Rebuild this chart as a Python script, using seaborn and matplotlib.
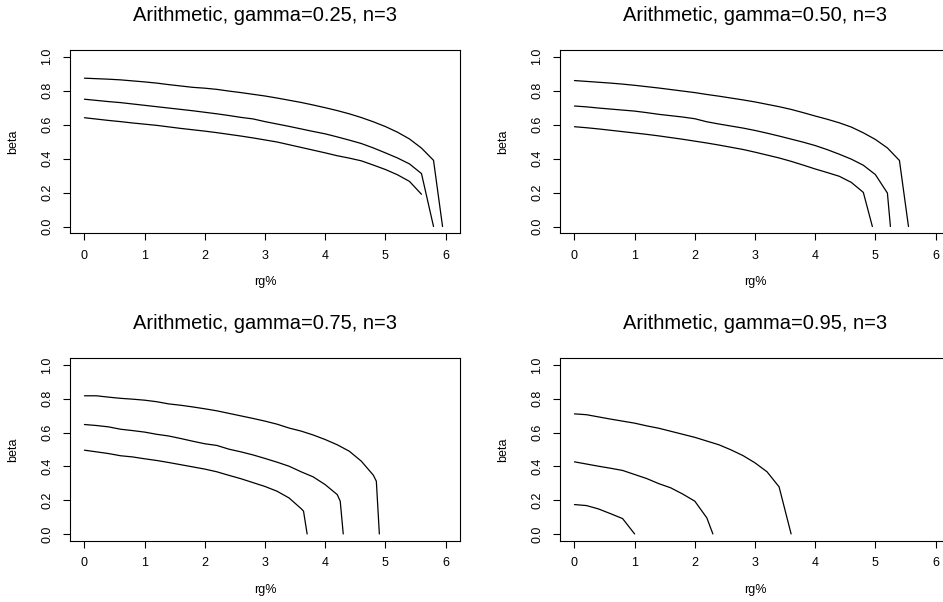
import pandas as pd
import seaborn as sns
import matplotlib
matplotlib.use("Agg")
import matplotlib.pyplot as plt

# panel titles (gamma values), three curves per panel
gammas = ["0.25", "0.50", "0.75", "0.95"]

# gamma = 0.25
g25_x_top = [0, 0.2, 0.4, 0.6, 0.8, 1.0, 1.2, 1.4, 1.6, 1.8, 2.0, 2.2, 2.4, 2.6, 2.8, 3.0,
             3.2, 3.4, 3.6, 3.8, 4.0, 4.2, 4.4, 4.6, 4.8, 5.0, 5.2, 5.4, 5.6, 5.8, 5.95]
g25_y_top = [0.874, 0.871, 0.868, 0.864, 0.858, 0.852, 0.845, 0.836, 0.828, 0.820, 0.815,
             0.808, 0.798, 0.789, 0.779, 0.769, 0.757, 0.744, 0.731, 0.716, 0.700, 0.683,
             0.664, 0.642, 0.617, 0.589, 0.556, 0.516, 0.462, 0.390, 0.0]
g25_x_mid = [0, 0.2, 0.4, 0.6, 0.8, 1.0, 1.2, 1.4, 1.6, 1.8, 2.0, 2.2, 2.4, 2.6, 2.8, 3.0,
             3.2, 3.4, 3.6, 3.8, 4.0, 4.2, 4.4, 4.6, 4.8, 5.0, 5.2, 5.4, 5.6, 5.8]
g25_y_mid = [0.750, 0.743, 0.736, 0.730, 0.722, 0.714, 0.706, 0.698, 0.690, 0.682, 0.673,
             0.664, 0.654, 0.643, 0.634, 0.618, 0.604, 0.590, 0.575, 0.560, 0.546, 0.528,
             0.509, 0.489, 0.463, 0.434, 0.404, 0.369, 0.312, 0.0]
g25_x_low = [0, 0.2, 0.4, 0.6, 0.8, 1.0, 1.2, 1.4, 1.6, 1.8, 2.0, 2.2, 2.4, 2.6, 2.8, 3.0,
             3.2, 3.4, 3.6, 3.8, 4.0, 4.2, 4.4, 4.6, 4.8, 5.0, 5.2, 5.4, 5.6]
g25_y_low = [0.641, 0.633, 0.625, 0.618, 0.610, 0.603, 0.596, 0.587, 0.578, 0.570, 0.562,
             0.553, 0.543, 0.533, 0.522, 0.510, 0.498, 0.482, 0.466, 0.450, 0.434, 0.417,
             0.403, 0.387, 0.362, 0.336, 0.305, 0.266, 0.190]

# gamma = 0.50
g50_x_top = [0, 0.2, 0.4, 0.6, 0.8, 1.0, 1.2, 1.4, 1.6, 1.8, 2.0, 2.2, 2.4, 2.6, 2.8, 3.0,
             3.2, 3.4, 3.6, 3.8, 4.0, 4.2, 4.4, 4.6, 4.8, 5.0, 5.2, 5.4, 5.55]
g50_y_top = [0.860, 0.855, 0.850, 0.845, 0.839, 0.832, 0.824, 0.816, 0.807, 0.798, 0.789,
             0.778, 0.768, 0.757, 0.746, 0.734, 0.720, 0.706, 0.690, 0.671, 0.651, 0.632,
             0.611, 0.586, 0.552, 0.513, 0.463, 0.389, 0.0]
g50_x_mid = [0, 0.2, 0.4, 0.6, 0.8, 1.0, 1.2, 1.4, 1.6, 1.8, 2.0, 2.2, 2.4, 2.6, 2.8, 3.0,
             3.2, 3.4, 3.6, 3.8, 4.0, 4.2, 4.4, 4.6, 4.8, 5.0, 5.2, 5.25]
g50_y_mid = [0.710, 0.705, 0.698, 0.692, 0.686, 0.680, 0.671, 0.661, 0.653, 0.645, 0.635,
             0.617, 0.604, 0.592, 0.580, 0.566, 0.550, 0.533, 0.515, 0.497, 0.477, 0.453,
             0.426, 0.397, 0.361, 0.306, 0.197, 0.0]
g50_x_low = [0, 0.2, 0.4, 0.6, 0.8, 1.0, 1.2, 1.4, 1.6, 1.8, 2.0, 2.2, 2.4, 2.6, 2.8, 3.0,
             3.2, 3.4, 3.6, 3.8, 4.0, 4.2, 4.4, 4.6, 4.8, 4.95]
g50_y_low = [0.588, 0.582, 0.575, 0.567, 0.559, 0.551, 0.543, 0.534, 0.524, 0.514, 0.503,
             0.492, 0.480, 0.467, 0.454, 0.438, 0.421, 0.404, 0.384, 0.362, 0.339, 0.318,
             0.296, 0.260, 0.201, 0.0]

# gamma = 0.75
g75_x_top = [0, 0.2, 0.4, 0.6, 0.8, 1.0, 1.2, 1.4, 1.6, 1.8, 2.0, 2.2, 2.4, 2.6, 2.8, 3.0,
             3.2, 3.4, 3.6, 3.8, 4.0, 4.2, 4.4, 4.6, 4.8, 4.85, 4.9]
g75_y_top = [0.818, 0.818, 0.810, 0.803, 0.798, 0.792, 0.783, 0.770, 0.762, 0.752, 0.741,
             0.729, 0.714, 0.699, 0.684, 0.668, 0.650, 0.627, 0.609, 0.586, 0.559, 0.528,
             0.490, 0.431, 0.348, 0.312, 0.0]
g75_x_mid = [0, 0.2, 0.4, 0.6, 0.8, 1.0, 1.2, 1.4, 1.6, 1.8, 2.0, 2.2, 2.4, 2.6, 2.8, 3.0,
             3.2, 3.4, 3.6, 3.8, 4.0, 4.2, 4.25, 4.3]
g75_y_mid = [0.648, 0.642, 0.634, 0.620, 0.612, 0.603, 0.590, 0.580, 0.565, 0.549, 0.534,
             0.524, 0.502, 0.486, 0.468, 0.447, 0.425, 0.401, 0.368, 0.338, 0.292, 0.233,
             0.194, 0.0]
g75_x_low = [0, 0.2, 0.4, 0.6, 0.8, 1.0, 1.2, 1.4, 1.6, 1.8, 2.0, 2.2, 2.4, 2.6, 2.8, 3.0,
             3.2, 3.4, 3.6, 3.64, 3.7]
g75_y_low = [0.496, 0.486, 0.476, 0.463, 0.456, 0.445, 0.435, 0.423, 0.410, 0.397, 0.384,
             0.368, 0.347, 0.327, 0.304, 0.281, 0.253, 0.213, 0.150, 0.135, 0.0]

# gamma = 0.95
g95_x_top = [0, 0.2, 0.4, 0.6, 0.8, 1.0, 1.2, 1.4, 1.6, 1.8, 2.0, 2.2, 2.4, 2.6, 2.8, 3.0,
             3.2, 3.4, 3.6]
g95_y_top = [0.711, 0.706, 0.693, 0.680, 0.668, 0.656, 0.640, 0.626, 0.608, 0.590, 0.572,
             0.550, 0.528, 0.498, 0.464, 0.421, 0.368, 0.279, 0.0]
g95_x_mid = [0, 0.2, 0.4, 0.6, 0.8, 1.0, 1.2, 1.4, 1.6, 1.8, 2.0, 2.2, 2.3]
g95_y_mid = [0.427, 0.414, 0.401, 0.389, 0.376, 0.352, 0.328, 0.298, 0.273, 0.236, 0.194,
             0.095, 0.0]
g95_x_low = [0, 0.2, 0.4, 0.6, 0.8, 1.0]
g95_y_low = [0.174, 0.168, 0.148, 0.120, 0.091, 0.0]

panels = [
    [(g25_x_top, g25_y_top), (g25_x_mid, g25_y_mid), (g25_x_low, g25_y_low)],
    [(g50_x_top, g50_y_top), (g50_x_mid, g50_y_mid), (g50_x_low, g50_y_low)],
    [(g75_x_top, g75_y_top), (g75_x_mid, g75_y_mid), (g75_x_low, g75_y_low)],
    [(g95_x_top, g95_y_top), (g95_x_mid, g95_y_mid), (g95_x_low, g95_y_low)],
]

sns.set_style("ticks")
plt.rcParams['font.family'] = ['Liberation Sans', 'DejaVu Sans']
plt.rcParams['text.color'] = 'black'
plt.rcParams['axes.labelcolor'] = 'black'

fig = plt.figure(figsize=(9.43, 6.02), dpi=100)
W, H = 943, 602
# axes boxes in pixels: left, top, right, bottom (right column runs off the page edge)
boxes = [(70, 50, 460, 233.3), (560, 50, 950, 233.3),
         (70, 358.3, 460, 540.7), (560, 358.3, 950, 540.7)]

for i, (gamma, curves) in enumerate(zip(gammas, panels)):
    l, t, r, b = boxes[i]
    ax = fig.add_axes([l / W, (H - b) / H, (r - l) / W, (b - t) / H])
    rows = []
    for k, (xs, ys) in enumerate(curves):
        for xv, yv in zip(xs, ys):
            rows.append({'rg': xv, 'beta': yv, 'curve': k})
    df = pd.DataFrame(rows)
    sns.lineplot(data=df, x='rg', y='beta', units='curve', estimator=None, sort=False,
                 color='black', linewidth=0.9, ax=ax)
    ax.set_xlim(-0.24, 6.24)
    ax.set_ylim(-0.04, 1.04)
    ax.set_xticks([0, 1, 2, 3, 4, 5, 6])
    ax.set_yticks([0.0, 0.2, 0.4, 0.6, 0.8, 1.0])
    ax.set_yticklabels(['0.0', '0.2', '0.4', '0.6', '0.8', '1.0'])
    ax.tick_params(axis='both', direction='out', length=5, width=0.8, color='black',
                   labelsize=9, pad=7, labelcolor='black')
    for lab in ax.get_yticklabels():
        lab.set_rotation(90)
        lab.set_va('center')
    for sp in ax.spines.values():
        sp.set_visible(True)
        sp.set_color('black')
        sp.set_linewidth(0.8)
    ax.set_title(f"Arithmetic, gamma={gamma}, n=3", fontsize=14.5, pad=21, color='black')
    ax.set_xlabel("rg%", fontsize=9, color='black')
    ax.set_ylabel("beta", fontsize=9, color='black')
    ax.xaxis.label.set_va('center')
    ax.yaxis.label.set_va('center')
    ax.xaxis.set_label_coords(0.5, -49 / (b - t))
    ax.yaxis.set_label_coords(-57 / (r - l), 0.5)

fig.savefig("out.png", dpi=100)
